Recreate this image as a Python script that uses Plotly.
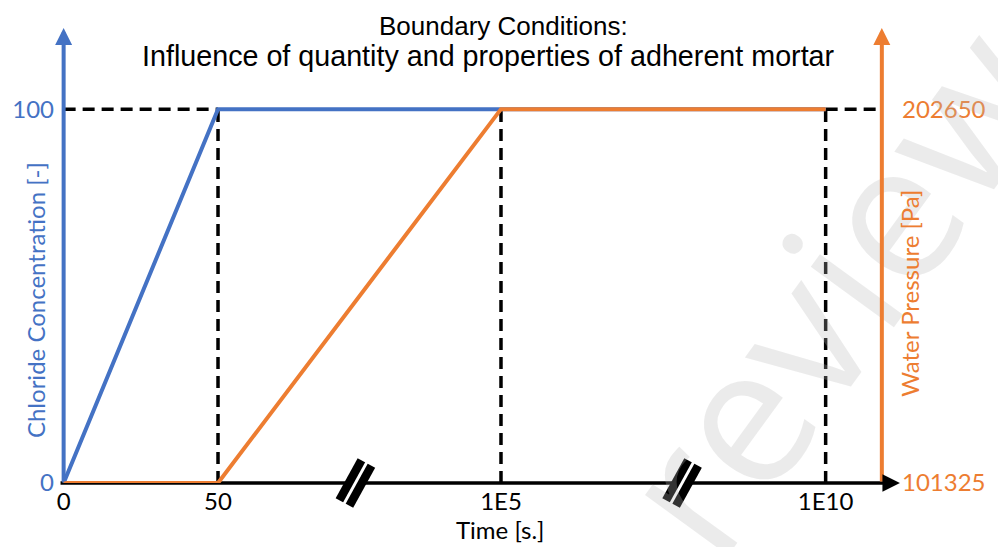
import plotly.graph_objects as go

# ---- data ----
time_labels = ["0", "50", "1E5", "1E10"]
time_pos = [0.0, 1.0, 2.833, 4.936]          # compressed (broken) time axis positions
chloride = [0, 100, 100, 100]                # Chloride concentration [-]
pressure = [101325, 101325, 202650, 202650]  # Water pressure [Pa]
break_pos = [1.89, 4.006]                    # axis-break marks
x_end = 5.30                                  # position of right axis
x_arrow = 5.417
x_range = [-0.03, 5.45]
y_top = 121.7

BLUE = "#4472C4"
ORANGE = "#ED7D31"
TXT = "Lato"

p_lo, p_hi = pressure[0], pressure[-1]
scale = (p_hi - p_lo) / 100.0
y2_range = [p_lo, p_lo + scale * y_top]

fig = go.Figure()

# dashed guide lines
dx, dy = [], []
dx += [0, time_pos[1], None]; dy += [chloride[1], chloride[1], None]
for xp in time_pos[1:]:
    dx += [xp, xp, None]; dy += [0, chloride[1], None]
dx += [time_pos[-1], x_end]; dy += [chloride[1], chloride[1]]
fig.add_trace(go.Scatter(x=dx, y=dy, mode="lines",
                         line=dict(color="black", width=3.5, dash="12px,7px"),
                         hoverinfo="skip", showlegend=False))

fig.add_trace(go.Scatter(x=time_pos, y=chloride, mode="lines",
                         line=dict(color=BLUE, width=4), showlegend=False, name="Chloride"))
fig.add_trace(go.Scatter(x=time_pos, y=pressure, mode="lines", yaxis="y2",
                         line=dict(color=ORANGE, width=4), showlegend=False, name="Pressure"))

annotations = []
# watermark
annotations.append(dict(text="review", x=0.912, y=0.43, xref="paper", yref="paper",
                        xanchor="center", yanchor="middle",
                        textangle=-54, showarrow=False,
                        font=dict(family="Open Sans", size=192,
                                  color="rgba(182,182,182,0.28)")))
# axes arrows
annotations.append(dict(x=0, y=y_top, ax=0, ay=0, xref="x", yref="y", axref="x", ayref="y",
                        text="", showarrow=True, arrowhead=2, arrowsize=0.85,
                        arrowwidth=4, arrowcolor=BLUE, standoff=0))
annotations.append(dict(x=x_end, y=y_top, ax=x_end, ay=0, xref="x", yref="y", axref="x", ayref="y",
                        text="", showarrow=True, arrowhead=2, arrowsize=0.85,
                        arrowwidth=4, arrowcolor=ORANGE, standoff=0))
annotations.append(dict(x=x_arrow, y=0, ax=x_end, ay=0, xref="x", yref="y", axref="x", ayref="y",
                        text="", showarrow=True, arrowhead=2, arrowsize=1.0,
                        arrowwidth=3.5, arrowcolor="black", standoff=0))

# titles
annotations.append(dict(text="Boundary Conditions:", x=0.5254, y=1.004, xref="paper", yref="paper",
                        xanchor="center", yanchor="middle",
                        showarrow=False, font=dict(family="Liberation Sans", size=26, color="black")))
annotations.append(dict(text="Influence of quantity and properties of adherent mortar", x=0.5073, y=0.9385,
                        xref="paper", yref="paper", xanchor="center", yanchor="middle", showarrow=False,
                        font=dict(family="Liberation Sans", size=28.7, color="black")))
annotations.append(dict(text="Time [s.]", x=0.5216, y=-0.1011, xref="paper", yref="paper",
                        xanchor="center", yanchor="middle",
                        showarrow=False, font=dict(family=TXT, size=24, color="black")))
annotations.append(dict(text="Chloride Concentration [-]", x=-0.0284, y=0.402, xref="paper", yref="paper",
                        xanchor="center", yanchor="middle",
                        textangle=-90, showarrow=False, font=dict(family=TXT, size=24, color=BLUE)))
annotations.append(dict(text="Water Pressure [Pa]", x=1.0056, y=0.4176, xref="paper", yref="paper",
                        xanchor="center", yanchor="middle",
                        textangle=-90, showarrow=False, font=dict(family=TXT, size=24, color=ORANGE)))

shapes = []
# x-axis line (below traces)
shapes.append(dict(type="line", xref="x", yref="paper", x0=-0.02, x1=x_end + 0.02, y0=0, y1=0,
                   layer="below", line=dict(color="black", width=3.5)))
for bp in break_pos:
    shapes.append(dict(type="line", xref="x", yref="paper", xsizemode="pixel", ysizemode="pixel",
                       xanchor=bp, yanchor=0, x0=-11, x1=11, y0=-20, y1=20,
                       line=dict(color="black", width=20)))
    shapes.append(dict(type="line", xref="x", yref="paper", xsizemode="pixel", ysizemode="pixel",
                       xanchor=bp, yanchor=0, x0=-13, x1=13, y0=-23.6, y1=23.6,
                       line=dict(color="white", width=3)))

fig.update_layout(
    width=998, height=547,
    margin=dict(l=55.3, r=87.8, t=28, b=64),
    paper_bgcolor="white", plot_bgcolor="white",
    showlegend=False,
    xaxis=dict(range=x_range, tickvals=time_pos, ticktext=time_labels,
               showgrid=False, zeroline=False, showline=False, ticks="",
               tickfont=dict(family=TXT, size=24, color="black"), ticklabelstandoff=2),
    yaxis=dict(range=[0, y_top], tickvals=[0, 100], ticktext=["0", "100"],
               showgrid=False, zeroline=False, showline=False, ticks="",
               tickfont=dict(family=TXT, size=24, color=BLUE), ticklabelstandoff=4),
    yaxis2=dict(range=y2_range, overlaying="y", side="right",
                tickvals=[p_lo, p_hi], ticktext=[str(p_lo), str(p_hi)],
                showgrid=False, zeroline=False, showline=False, ticks="",
                tickfont=dict(family=TXT, size=24, color=ORANGE), ticklabelstandoff=-4),
    annotations=annotations,
    shapes=shapes,
)

fig.write_html("out.html")
